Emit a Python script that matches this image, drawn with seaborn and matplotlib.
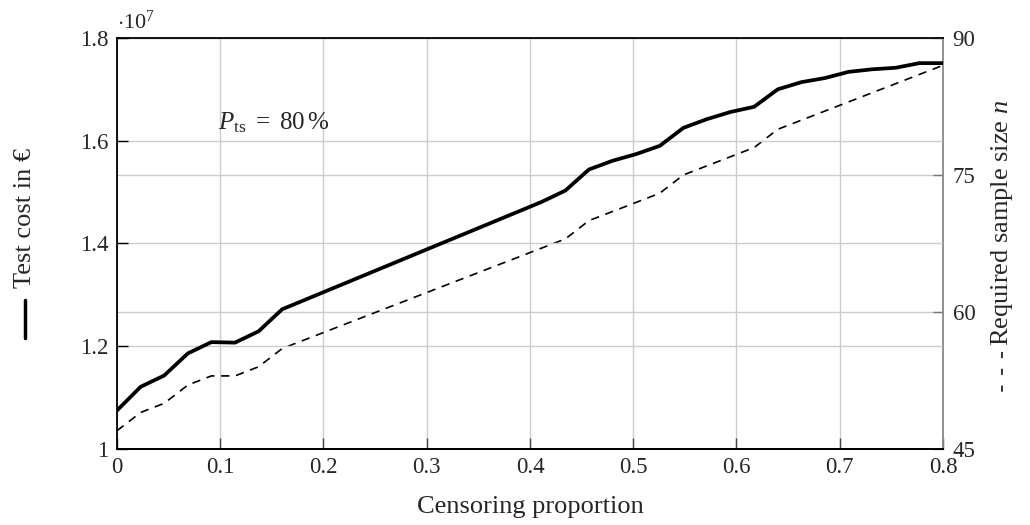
import numpy as np
import pandas as pd
import matplotlib
matplotlib.use("Agg")
import matplotlib.pyplot as plt
from matplotlib.lines import Line2D
from matplotlib.ticker import FuncFormatter
import seaborn as sns

# ---------- data ----------
censoring = [0.0, 0.0229, 0.0457, 0.0686, 0.0914, 0.1143, 0.1371, 0.16,
             0.1829, 0.2057, 0.2286, 0.2514, 0.2743, 0.2971, 0.32, 0.3429,
             0.3657, 0.3886, 0.4114, 0.4343, 0.4571, 0.48, 0.5029, 0.5257,
             0.5486, 0.5714, 0.5943, 0.6171, 0.64, 0.6629, 0.6857, 0.7086,
             0.7314, 0.7543, 0.7771, 0.8]

# test cost in units of 1e7 EUR
test_cost = [1.075, 1.121, 1.143, 1.186, 1.208, 1.207, 1.229, 1.272,
             1.291, 1.310, 1.329, 1.348, 1.367, 1.386, 1.405, 1.424,
             1.443, 1.462, 1.481, 1.503, 1.544, 1.561, 1.574, 1.590,
             1.625, 1.642, 1.656, 1.666, 1.700, 1.714, 1.722, 1.734,
             1.739, 1.742, 1.751, 1.751]

sample_size = [47, 49, 50, 52, 53, 53, 54, 56, 57, 58, 59, 60, 61, 62, 63, 64,
               65, 66, 67, 68, 70, 71, 72, 73, 75, 76, 77, 78, 80, 81, 82, 83,
               84, 85, 86, 87]

x_ticks = [0, 0.1, 0.2, 0.3, 0.4, 0.5, 0.6, 0.7, 0.8]
cost_ticks = [1.0, 1.2, 1.4, 1.6, 1.8]
n_ticks = [45, 60, 75, 90]

df = pd.DataFrame({"censoring": censoring, "cost": test_cost, "n": sample_size})

# ---------- style ----------
sns.set_style("ticks")
plt.rcParams["font.family"] = ["Liberation Serif", "DejaVu Serif"]
plt.rcParams["mathtext.fontset"] = "custom"
plt.rcParams["mathtext.rm"] = "Liberation Serif"
plt.rcParams["mathtext.it"] = "Liberation Serif:italic"

FS_TICK = 16.5
FS_LAB = 19
GRID = "#cccccc"

fig = plt.figure(figsize=(10.3, 5.25), dpi=100)
ax_n = fig.add_axes([0.1136, 0.1448, 0.8019, 0.7829])
ax_c = ax_n.twinx()

# sample size (right axis, dashed) sits in the bottom axes
sns.lineplot(data=df, x="censoring", y="n", ax=ax_n, color="black",
             lw=1.2, linestyle=(0, (5, 4)))
# test cost (left axis, solid) on top
sns.lineplot(data=df, x="censoring", y="cost", ax=ax_c, color="black", lw=2.7)

ax_n.set_xlim(0, 0.8)
ax_n.set_ylim(45, 90)
ax_c.set_ylim(1.0, 1.8)

ax_n.yaxis.tick_right()
ax_c.yaxis.tick_left()
ax_n.set_xticks(x_ticks)
ax_n.set_yticks(n_ticks)
ax_c.set_yticks(cost_ticks)

fmt = FuncFormatter(lambda v, p: f"{v:g}")
ax_n.xaxis.set_major_formatter(fmt)
ax_c.yaxis.set_major_formatter(fmt)

ax_n.set_ylabel("")
ax_c.set_ylabel("")
ax_n.set_xlabel("Censoring proportion", fontsize=FS_LAB)
ax_n.xaxis.set_label_coords(0.5, -0.115)

ax_n.grid(True, color=GRID, lw=1)
ax_c.grid(True, axis="y", color=GRID, lw=1)

ax_n.tick_params(axis="x", direction="in", length=8, width=1, color="#444444",
                 labelsize=FS_TICK, pad=6)
ax_n.tick_params(axis="y", direction="in", length=7, width=1, color="#777777",
                 labelsize=FS_TICK, pad=7)
ax_c.tick_params(axis="y", direction="in", length=8, width=1, color="black",
                 labelsize=FS_TICK, pad=6)

for s in ["left", "top", "bottom"]:
    ax_c.spines[s].set_color("black")
    ax_c.spines[s].set_linewidth(1.3)
ax_c.spines["right"].set_visible(False)
ax_n.spines["left"].set_visible(False)
ax_n.spines["top"].set_visible(False)
ax_n.spines["bottom"].set_color("black")
ax_n.spines["bottom"].set_linewidth(1.3)
ax_n.spines["right"].set_color("#888888")
ax_n.spines["right"].set_linewidth(1.3)

# annotation and multiplier
ax_c.text(0.098, 1.636, r"$P_{\mathrm{ts}}\ =\ 80\,\%$", fontsize=18,
          ha="left", va="center")
fig.text(117 / 1030, 1 - 22 / 525, r"$\cdot 10^{7}$", fontsize=16,
         ha="left", va="center")

# y labels with line-style glyphs
fig.text(25 / 1030, 1 - 218 / 525, "Test cost in €", rotation=90,
         fontsize=FS_LAB, ha="center", va="center")
fig.add_artist(Line2D([25 / 1030, 25 / 1030], [1 - 300 / 525, 1 - 338 / 525],
                      color="black", lw=2.5, transform=fig.transFigure))
fig.text(1002 / 1030, 1 - 223 / 525, "Required sample size $n$", rotation=90,
         fontsize=FS_LAB, ha="center", va="center")
fig.add_artist(Line2D([1002 / 1030, 1002 / 1030], [1 - 352 / 525, 1 - 392 / 525],
                      color="black", lw=1.1, linestyle=(0, (4, 7)),
                      transform=fig.transFigure))

fig.savefig("out.png", dpi=100)
